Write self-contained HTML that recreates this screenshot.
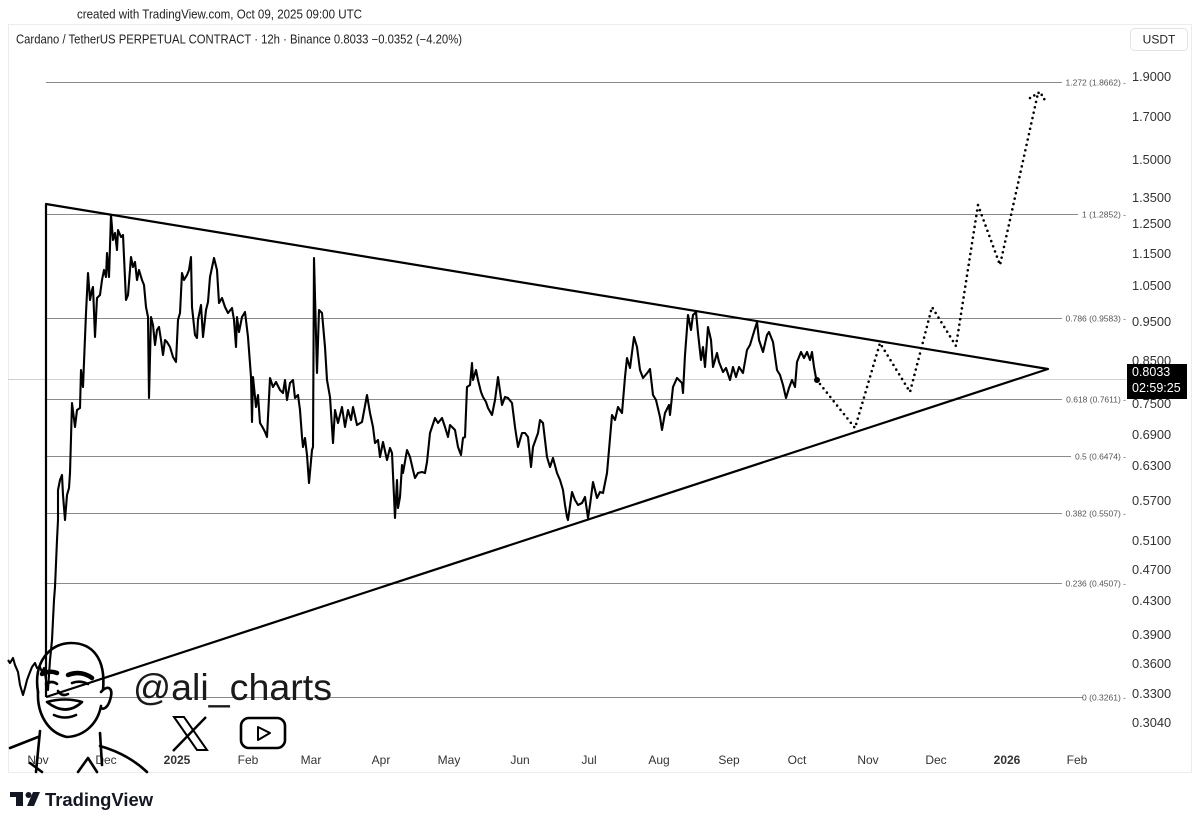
<!DOCTYPE html>
<html><head><meta charset="utf-8"><style>
html,body{margin:0;padding:0;background:#fff;}
svg{display:block;}
text{font-family:"Liberation Sans",sans-serif;}
</style></head><body>
<svg width="1200" height="826" viewBox="0 0 1200 826" xmlns="http://www.w3.org/2000/svg">
<rect width="1200" height="826" fill="#fff"/>
<text x="77" y="18.5" font-size="12.5" fill="#222" textLength="285" lengthAdjust="spacingAndGlyphs">created with TradingView.com, Oct 09, 2025 09:00 UTC</text>
<!-- panel -->
<line x1="8" y1="24.5" x2="1192" y2="24.5" stroke="#ececec"/>
<line x1="8.5" y1="24" x2="8.5" y2="772" stroke="#ececec"/>
<line x1="1191.5" y1="24" x2="1191.5" y2="772" stroke="#ececec"/>
<line x1="8" y1="772.5" x2="1192" y2="772.5" stroke="#ececec"/>
<text x="16" y="43.5" font-size="12.5" fill="#222" textLength="446" lengthAdjust="spacingAndGlyphs">Cardano / TetherUS PERPETUAL CONTRACT · 12h · Binance  0.8033  −0.0352 (−4.20%)</text>
<rect x="1130.5" y="28.5" width="57" height="22" rx="4" fill="#fff" stroke="#e3e3e3"/>
<text x="1159" y="43.5" font-size="12" fill="#222" text-anchor="middle">USDT</text>

<!-- current price line -->
<line x1="8" y1="379.5" x2="1127" y2="379.5" stroke="#cfcfcf" stroke-width="1"/>

<!-- fib lines -->
<g stroke="#8a8a8a" stroke-width="1">
<line x1="46" y1="82.5" x2="1062" y2="82.5"/>
<line x1="46" y1="214.5" x2="1078" y2="214.5"/>
<line x1="46" y1="318.5" x2="1062" y2="318.5"/>
<line x1="46" y1="399.5" x2="1062" y2="399.5"/>
<line x1="46" y1="456.5" x2="1071" y2="456.5"/>
<line x1="46" y1="513.5" x2="1062" y2="513.5"/>
<line x1="46" y1="583.5" x2="1062" y2="583.5"/>
<line x1="46" y1="697.5" x2="1083" y2="697.5"/>
</g>
<g font-size="8.5" fill="#555" text-anchor="end">
<text x="1126" y="85.5">1.272 (1.8662) -</text>
<text x="1126" y="217.5">1 (1.2852) -</text>
<text x="1126" y="321.5">0.786 (0.9583) -</text>
<text x="1126" y="402.5">0.618 (0.7611) -</text>
<text x="1126" y="459.5">0.5 (0.6474) -</text>
<text x="1126" y="516.5">0.382 (0.5507) -</text>
<text x="1126" y="586.5">0.236 (0.4507) -</text>
<text x="1126" y="700.5">0 (0.3261) -</text>
</g>

<!-- price axis -->
<g font-size="12.8" fill="#333">
<text x="1132" y="81">1.9000</text>
<text x="1132" y="121">1.7000</text>
<text x="1132" y="164">1.5000</text>
<text x="1132" y="202">1.3500</text>
<text x="1132" y="228">1.2500</text>
<text x="1132" y="258">1.1500</text>
<text x="1132" y="290">1.0500</text>
<text x="1132" y="326">0.9500</text>
<text x="1132" y="365">0.8500</text>
<text x="1132" y="408">0.7500</text>
<text x="1132" y="439">0.6900</text>
<text x="1132" y="470">0.6300</text>
<text x="1132" y="505">0.5700</text>
<text x="1132" y="545">0.5100</text>
<text x="1132" y="574">0.4700</text>
<text x="1132" y="605">0.4300</text>
<text x="1132" y="639">0.3900</text>
<text x="1132" y="668">0.3600</text>
<text x="1132" y="698">0.3300</text>
<text x="1132" y="727">0.3040</text>
</g>
<rect x="1127" y="364" width="60" height="35" fill="#000"/>
<text x="1132" y="376" font-size="12.5" fill="#fff">0.8033</text>
<text x="1132" y="392" font-size="12.5" fill="#fff">02:59:25</text>

<!-- time axis -->
<g font-size="12" fill="#333" text-anchor="middle">
<text x="38" y="764">Nov</text>
<text x="106" y="764">Dec</text>
<text x="177" y="764" font-weight="bold">2025</text>
<text x="248" y="764">Feb</text>
<text x="311" y="764">Mar</text>
<text x="381" y="764">Apr</text>
<text x="449" y="764">May</text>
<text x="520" y="764">Jun</text>
<text x="589" y="764">Jul</text>
<text x="659" y="764">Aug</text>
<text x="729" y="764">Sep</text>
<text x="797" y="764">Oct</text>
<text x="868" y="764">Nov</text>
<text x="936" y="764">Dec</text>
<text x="1007" y="764" font-weight="bold">2026</text>
<text x="1077" y="764">Feb</text>
</g>

<!-- triangle -->
<g stroke="#000" stroke-width="2.2" fill="none" stroke-linejoin="round">
<polyline points="46,697 46,204 1048,369 46,697"/>
</g>

<!-- price series -->
<polyline fill="none" stroke="#000" stroke-width="2.1" stroke-linejoin="round" points="8,660 10,663 13,658 15,665 18,672 20,685 23,695 25,688 27,680 30,672 32,667 35,663 37,668 40,667 42,672 44,668 46,680 48,690 50,660 52,640 54,600 55,587 57,540 58,520 58,490 60,480 62,475 63,495 65,520 67,495 69,488 70,473 72,403 75,427 77,410 80,408 81,370 83,387 86,313 88,273 90,300 92,290 93,287 95,337 97,298 100,295 102,280 104,270 106,277 107,253 109,277 111,215 113,240 115,233 117,250 118,230 121,237 123,235 126,300 128,295 131,257 133,267 135,262 137,280 139,270 142,280 144,285 146,307 148,317 149,398 151,317 153,325 155,345 157,330 159,327 161,340 163,355 165,340 167,342 170,347 173,357 176,362 178,320 180,313 182,273 184,280 187,275 189,270 191,257 192,307 195,335 197,338 198,320 201,305 203,337 206,310 208,302 210,277 214,258 217,270 219,303 222,298 225,307 228,313 232,308 234,320 236,347 237,317 239,332 242,317 245,312 248,337 251,377 252,422 253,377 256,407 258,395 260,423 263,428 265,432 267,437 270,378 273,387 276,382 280,390 283,393 285,380 287,400 290,383 293,380 295,398 298,395 300,410 302,437 303,447 305,438 307,455 309,483 312,450 313,447 314,258 317,373 319,310 322,313 325,347 327,380 330,397 333,443 335,410 338,423 342,407 345,427 348,410 351,420 353,407 357,425 362,422 367,395 370,413 373,427 375,443 378,440 380,457 383,442 387,460 390,448 392,453 395,518 397,480 398,508 400,497 402,465 403,473 407,450 410,457 413,470 415,478 418,473 422,472 425,473 427,462 430,433 432,427 435,418 438,423 442,418 445,427 448,437 450,425 455,430 458,447 461,455 463,438 465,437 467,387 470,385 472,363 473,380 476,370 478,380 481,392 483,397 486,402 488,408 492,415 495,400 498,377 502,405 505,397 508,398 512,403 515,427 518,447 522,433 525,433 528,437 531,467 533,447 538,433 540,420 543,423 547,457 550,467 553,458 557,473 560,480 563,490 565,505 567,517 568,520 572,492 575,500 578,505 582,503 585,497 588,518 590,505 593,482 597,498 600,492 603,493 607,473 609,450 612,415 615,420 618,407 622,413 625,377 627,358 630,368 634,337 637,347 640,370 643,378 648,372 650,369 653,395 656,400 660,417 662,430 665,413 669,405 670,415 673,387 677,378 682,383 683,393 685,355 688,315 691,330 693,315 696,312 698,333 701,360 703,347 705,367 708,327 711,340 713,367 717,353 719,362 723,372 726,368 730,380 733,367 736,377 739,367 743,373 747,350 750,345 753,335 757,322 759,340 763,352 767,335 769,332 773,342 777,370 780,375 783,385 786,398 789,388 792,380 795,387 797,362 801,352 804,358 807,352 810,360 812,352 814,367 816,378"/>
<circle cx="817" cy="380" r="3" fill="#000"/>

<!-- projection -->
<polyline fill="none" stroke="#000" stroke-width="2.6" stroke-linecap="round" stroke-dasharray="0 5.5" points="820,384 855,428 880,343 910,392 932,307 956,346 978,205 1000,265 1038,93"/>
<polyline fill="none" stroke="#000" stroke-width="2.6" stroke-linecap="round" stroke-dasharray="0 5" points="1030,98 1040,92 1046,102"/>

<!-- avatar sketch -->
<g stroke="#000" stroke-width="2.6" fill="none" stroke-linecap="round" stroke-linejoin="round">
<path d="M38,692 C33,662 50,643 71,643 C92,643 106,658 103,690"/>
<path d="M38,692 C37,714 48,733 67,737 C86,736 98,722 101,706"/>
<path d="M101,692 C108,684 114,688 110,700 C108,707 104,710 101,708"/>
<path d="M42,674 Q50,670 57,673" stroke-width="4.5"/>
<path d="M68,675 Q81,670 92,678" stroke-width="4.5"/>
<path d="M46,684 Q52,680 57,684"/>
<path d="M72,683 Q80,680 88,684"/>
<path d="M58,691 Q62,697 68,694"/>
<path d="M47,702 Q65,697 82,702 Q66,717 47,702 Z"/>
<path d="M54,715 Q65,720 76,715"/>
<path d="M40,731 L36,772"/>
<path d="M100,733 L102,765"/>
<path d="M10,748 L38,737"/>
<path d="M100,746 Q128,754 147,772"/>
<path d="M30,763 L42,772"/>
<path d="M78,772 L88,758 L97,772"/>
</g>
<text x="133" y="700" font-size="37.5" fill="#1a1a1a" textLength="199" lengthAdjust="spacingAndGlyphs">@ali_charts</text>
<!-- X logo -->
<g stroke="#000" fill="none" stroke-linecap="butt">
<path d="M174,717 L197,750 L207,750 L184,717 Z" stroke-width="2"/>
<path d="M206,717 L173,751" stroke-width="2.4"/>
</g>
<!-- YouTube -->
<rect x="241" y="718" width="44" height="30" rx="8" fill="none" stroke="#000" stroke-width="2.6"/>
<path d="M258,727 L270,733 L258,740 Z" fill="none" stroke="#000" stroke-width="2" stroke-linejoin="round"/>

<!-- TradingView logo -->
<g fill="#131722">
<rect x="10" y="792" width="13" height="5"/>
<rect x="16" y="792" width="7" height="14"/>
<circle cx="28.5" cy="795" r="3"/>
<polygon points="33,792 40,792 34,806 27,806"/>
</g>
<text x="45" y="806" font-size="18" font-weight="bold" fill="#131722" textLength="108" lengthAdjust="spacingAndGlyphs">TradingView</text>
</svg>
</body></html>
